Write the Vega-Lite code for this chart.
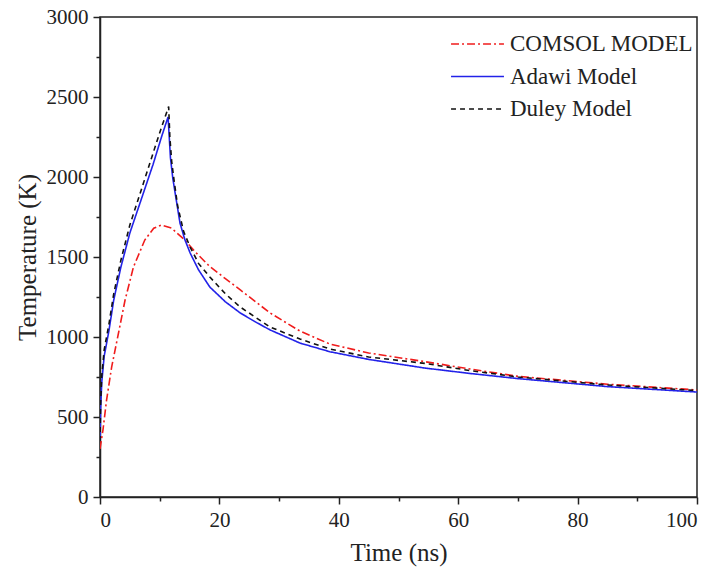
{
  "$schema": "https://vega.github.io/schema/vega-lite/v6.json",
  "autosize": "none",
  "width": 597,
  "height": 480,
  "padding": {"left": 100, "top": 17, "right": 17, "bottom": 80},
  "background": "white",
  "config": {
    "view": {"stroke": "#222", "strokeWidth": 1.5},
    "font": "Liberation Serif"
  },
  "data": {
    "values": [
      {"series": "COMSOL MODEL", "t": 0, "T": 300},
      {"series": "COMSOL MODEL", "t": 0.5, "T": 420},
      {"series": "COMSOL MODEL", "t": 1.1, "T": 606},
      {"series": "COMSOL MODEL", "t": 1.95, "T": 812},
      {"series": "COMSOL MODEL", "t": 3.1, "T": 1025},
      {"series": "COMSOL MODEL", "t": 4.2, "T": 1231},
      {"series": "COMSOL MODEL", "t": 5.6, "T": 1437},
      {"series": "COMSOL MODEL", "t": 7.5, "T": 1606},
      {"series": "COMSOL MODEL", "t": 9, "T": 1680},
      {"series": "COMSOL MODEL", "t": 10.3, "T": 1700},
      {"series": "COMSOL MODEL", "t": 12, "T": 1680},
      {"series": "COMSOL MODEL", "t": 14.2, "T": 1606},
      {"series": "COMSOL MODEL", "t": 16, "T": 1530},
      {"series": "COMSOL MODEL", "t": 18.4, "T": 1440},
      {"series": "COMSOL MODEL", "t": 21, "T": 1365},
      {"series": "COMSOL MODEL", "t": 23.5, "T": 1294},
      {"series": "COMSOL MODEL", "t": 28.5, "T": 1150},
      {"series": "COMSOL MODEL", "t": 33.5, "T": 1037},
      {"series": "COMSOL MODEL", "t": 38.5, "T": 956},
      {"series": "COMSOL MODEL", "t": 45, "T": 900},
      {"series": "COMSOL MODEL", "t": 54.4, "T": 846},
      {"series": "COMSOL MODEL", "t": 62, "T": 800},
      {"series": "COMSOL MODEL", "t": 70, "T": 754},
      {"series": "COMSOL MODEL", "t": 85, "T": 705},
      {"series": "COMSOL MODEL", "t": 100, "T": 669},

      {"series": "Adawi Model", "t": 0, "T": 350},
      {"series": "Adawi Model", "t": 0.1, "T": 550},
      {"series": "Adawi Model", "t": 0.3, "T": 720},
      {"series": "Adawi Model", "t": 0.7, "T": 880},
      {"series": "Adawi Model", "t": 1.5, "T": 1040},
      {"series": "Adawi Model", "t": 2.3, "T": 1231},
      {"series": "Adawi Model", "t": 3.5, "T": 1437},
      {"series": "Adawi Model", "t": 5, "T": 1650},
      {"series": "Adawi Model", "t": 7, "T": 1870},
      {"series": "Adawi Model", "t": 8.9, "T": 2080},
      {"series": "Adawi Model", "t": 10.3, "T": 2250},
      {"series": "Adawi Model", "t": 11.4, "T": 2375},
      {"series": "Adawi Model", "t": 11.6, "T": 2250},
      {"series": "Adawi Model", "t": 11.8, "T": 2120},
      {"series": "Adawi Model", "t": 12.2, "T": 1990},
      {"series": "Adawi Model", "t": 12.8, "T": 1850},
      {"series": "Adawi Model", "t": 13.4, "T": 1712},
      {"series": "Adawi Model", "t": 14.2, "T": 1610},
      {"series": "Adawi Model", "t": 15.1, "T": 1525},
      {"series": "Adawi Model", "t": 16.5, "T": 1420},
      {"series": "Adawi Model", "t": 18.4, "T": 1312},
      {"series": "Adawi Model", "t": 21, "T": 1220},
      {"series": "Adawi Model", "t": 23.5, "T": 1150},
      {"series": "Adawi Model", "t": 26, "T": 1095},
      {"series": "Adawi Model", "t": 28.5, "T": 1044},
      {"series": "Adawi Model", "t": 33.5, "T": 962},
      {"series": "Adawi Model", "t": 38.5, "T": 908},
      {"series": "Adawi Model", "t": 45, "T": 860},
      {"series": "Adawi Model", "t": 54.4, "T": 806},
      {"series": "Adawi Model", "t": 62, "T": 772},
      {"series": "Adawi Model", "t": 70, "T": 740},
      {"series": "Adawi Model", "t": 85, "T": 690},
      {"series": "Adawi Model", "t": 100, "T": 656},

      {"series": "Duley Model", "t": 0, "T": 350},
      {"series": "Duley Model", "t": 0.1, "T": 580},
      {"series": "Duley Model", "t": 0.3, "T": 760},
      {"series": "Duley Model", "t": 0.7, "T": 920},
      {"series": "Duley Model", "t": 1.5, "T": 1080},
      {"series": "Duley Model", "t": 2.3, "T": 1270},
      {"series": "Duley Model", "t": 3.5, "T": 1480},
      {"series": "Duley Model", "t": 5, "T": 1700},
      {"series": "Duley Model", "t": 7, "T": 1930},
      {"series": "Duley Model", "t": 8.9, "T": 2150},
      {"series": "Duley Model", "t": 10.3, "T": 2310},
      {"series": "Duley Model", "t": 11.5, "T": 2440},
      {"series": "Duley Model", "t": 11.7, "T": 2250},
      {"series": "Duley Model", "t": 12.0, "T": 2100},
      {"series": "Duley Model", "t": 12.4, "T": 1981},
      {"series": "Duley Model", "t": 13, "T": 1820},
      {"series": "Duley Model", "t": 14, "T": 1660},
      {"series": "Duley Model", "t": 15.1, "T": 1562},
      {"series": "Duley Model", "t": 16.5, "T": 1460},
      {"series": "Duley Model", "t": 18.4, "T": 1375},
      {"series": "Duley Model", "t": 21, "T": 1270},
      {"series": "Duley Model", "t": 23.5, "T": 1187},
      {"series": "Duley Model", "t": 28.5, "T": 1062},
      {"series": "Duley Model", "t": 33.5, "T": 987},
      {"series": "Duley Model", "t": 38.5, "T": 925},
      {"series": "Duley Model", "t": 45, "T": 875},
      {"series": "Duley Model", "t": 54.4, "T": 835},
      {"series": "Duley Model", "t": 62, "T": 790},
      {"series": "Duley Model", "t": 70, "T": 750},
      {"series": "Duley Model", "t": 85, "T": 700},
      {"series": "Duley Model", "t": 100, "T": 665}
    ]
  },
  "mark": {"type": "line", "strokeWidth": 1.6, "clip": true},
  "encoding": {
    "x": {
      "field": "t", "type": "quantitative",
      "scale": {"domain": [0, 100], "nice": false},
      "axis": {
        "title": "Time (ns)",
        "values": [0, 10, 20, 30, 40, 50, 60, 70, 80, 90, 100],
        "labelExpr": "datum.value % 20 === 0 ? datum.label : ''",
        "tickSize": {"expr": "datum.value % 20 === 0 ? 7 : 4"},
        "grid": false,
        "domainColor": "#222", "domainWidth": 1.5,
        "tickColor": "#222", "tickWidth": 1.5,
        "labelFont": "Liberation Serif", "labelFontSize": 21, "labelColor": "#222",
        "labelPadding": 5,
        "titleFont": "Liberation Serif", "titleFontSize": 25, "titleFontWeight": "normal", "titleColor": "#222",
        "titlePadding": 10
      }
    },
    "y": {
      "field": "T", "type": "quantitative",
      "scale": {"domain": [0, 3000], "nice": false},
      "axis": {
        "title": "Temperature (K)",
        "values": [0, 250, 500, 750, 1000, 1250, 1500, 1750, 2000, 2250, 2500, 2750, 3000],
        "labelExpr": "datum.value % 500 === 0 ? datum.label : ''",
        "format": "d",
        "tickSize": {"expr": "datum.value % 500 === 0 ? 7 : 4"},
        "grid": false,
        "domainColor": "#222", "domainWidth": 1.5,
        "tickColor": "#222", "tickWidth": 1.5,
        "labelFont": "Liberation Serif", "labelFontSize": 21, "labelColor": "#222",
        "labelPadding": 5,
        "titleFont": "Liberation Serif", "titleFontSize": 25, "titleFontWeight": "normal", "titleColor": "#222",
        "titlePadding": 6
      }
    },
    "color": {
      "field": "series", "type": "nominal",
      "scale": {"domain": ["COMSOL MODEL", "Adawi Model", "Duley Model"], "range": ["#f01c1c", "#2222e8", "#111111"]},
      "legend": {
        "title": null,
        "orient": "none",
        "legendX": 350,
        "legendY": 15,
        "symbolType": "stroke",
        "symbolSize": 2800,
        "symbolStrokeWidth": 1.6,
        "clipHeight": 24,
        "labelFont": "Liberation Serif",
        "labelFontSize": 23,
        "labelColor": "#222",
        "labelLimit": 400,
        "labelOffset": 5,
        "rowPadding": 8.5
      }
    },
    "strokeDash": {
      "field": "series", "type": "nominal",
      "scale": {"domain": ["COMSOL MODEL", "Adawi Model", "Duley Model"], "range": [[8, 3, 2, 3], [1, 0], [5, 4]]},
      "legend": {
        "title": null,
        "orient": "none",
        "legendX": 350,
        "legendY": 15,
        "symbolType": "stroke",
        "symbolSize": 2800,
        "symbolStrokeWidth": 1.6,
        "clipHeight": 24,
        "labelFont": "Liberation Serif",
        "labelFontSize": 23,
        "labelColor": "#222",
        "labelLimit": 400,
        "labelOffset": 5,
        "rowPadding": 8.5
      }
    }
  }
}
